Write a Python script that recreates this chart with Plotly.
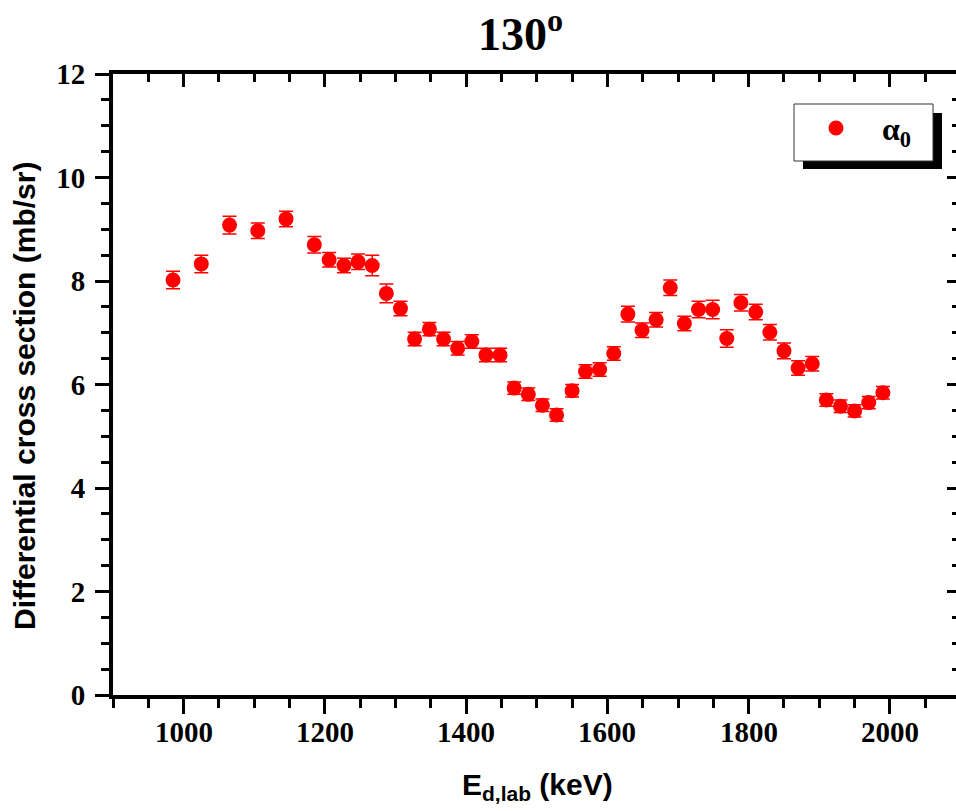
import plotly.graph_objects as go

# ---------------- data ----------------
energy_keV = [985, 1025, 1065, 1105, 1145, 1185, 1206, 1227, 1247, 1267, 1287, 1307,
              1327, 1348, 1368, 1388, 1408, 1428, 1448, 1468, 1488, 1508, 1528, 1550,
              1569, 1589, 1609, 1629, 1649, 1669, 1689, 1709, 1729, 1749, 1769, 1789,
              1810, 1830, 1850, 1870, 1890, 1910, 1930, 1950, 1970, 1990]
cross_section = [8.02, 8.33, 9.08, 8.97, 9.20, 8.70, 8.41, 8.30, 8.37, 8.30, 7.76, 7.47,
                 6.88, 7.07, 6.88, 6.70, 6.83, 6.57, 6.57, 5.93, 5.81, 5.60, 5.41, 5.88,
                 6.25, 6.29, 6.60, 7.36, 7.05, 7.25, 7.87, 7.18, 7.45, 7.45, 6.89, 7.58,
                 7.40, 7.01, 6.65, 6.32, 6.40, 5.70, 5.58, 5.49, 5.65, 5.84]
cross_error = [0.17, 0.17, 0.17, 0.15, 0.15, 0.16, 0.14, 0.14, 0.15, 0.20, 0.18, 0.14,
               0.13, 0.13, 0.13, 0.13, 0.13, 0.13, 0.13, 0.12, 0.12, 0.12, 0.12, 0.12,
               0.13, 0.13, 0.13, 0.15, 0.14, 0.14, 0.15, 0.14, 0.16, 0.18, 0.17, 0.16,
               0.15, 0.15, 0.15, 0.14, 0.14, 0.12, 0.12, 0.12, 0.12, 0.12]
x_ticks = [1000, 1200, 1400, 1600, 1800, 2000]
x_tick_labels = ["1000", "1200", "1400", "1600", "1800", "2000"]
y_ticks = [0, 2, 4, 6, 8, 10, 12]
series_name = "α<sub>0</sub>"
title_text = "130<sup>o</sup>"
x_title = "E<sub>d,lab</sub> (keV)"
y_title = "Differential cross section (mb/sr)"

# ---------------- layout geometry ----------------
W, H = 956, 811
L, R, T, B = 113, 0, 74, 116
PW, PH = W - L - R, H - T - B
X_MIN, X_MAX = 900, 900 + PW / 0.7063
Y_MIN, Y_MAX = 0, 12


def px(xp):
    return (xp - L) / PW


def py(yp):
    return (T + PH - yp) / PH


serif = "Liberation Serif, Times New Roman, serif"
sans = "Liberation Sans, Arial, sans-serif"
RED = "#ff0000"

fig = go.Figure()
fig.add_trace(go.Scatter(
    x=energy_keV, y=cross_section, mode="markers", name="alpha0",
    marker=dict(color=RED, size=15, line=dict(width=0)),
    error_y=dict(type="data", array=cross_error, visible=True,
                 color=RED, thickness=1.5, width=7),
    showlegend=False,
))
# invisible companion trace to carry the top / right axes
fig.add_trace(go.Scatter(
    x=energy_keV, y=cross_section, mode="markers", xaxis="x2", yaxis="y2",
    marker=dict(opacity=0), hoverinfo="skip", showlegend=False,
))

tickfont = dict(family=serif, size=29, color="black", weight="bold")

fig.update_layout(
    width=W, height=H,
    margin=dict(l=L, r=R, t=T, b=B, pad=0),
    paper_bgcolor="white", plot_bgcolor="white",
    showlegend=False,
    xaxis=dict(
        range=[X_MIN, X_MAX], tickvals=x_ticks, ticks="outside", ticklen=15,
        tickwidth=3, tickcolor="black", showline=True, linewidth=4, linecolor="black",
        showgrid=False, zeroline=False, showticklabels=False,
        minor=dict(dtick=50, tick0=900, ticks="outside", ticklen=9, tickwidth=3,
                   tickcolor="black", showgrid=False),
    ),
    yaxis=dict(
        range=[Y_MIN, Y_MAX], tickvals=y_ticks, ticks="outside", ticklen=14,
        tickwidth=3, tickcolor="black", showline=True, linewidth=4, linecolor="black",
        showgrid=False, zeroline=False, tickfont=tickfont, ticklabelstandoff=4,
        minor=dict(dtick=0.5, tick0=0, ticks="outside", ticklen=8, tickwidth=3,
                   tickcolor="black", showgrid=False),
    ),
    xaxis2=dict(
        overlaying="x", side="top", anchor="y", range=[X_MIN, X_MAX],
        tickvals=x_ticks, ticks="inside", ticklen=13, tickwidth=3, tickcolor="black",
        showline=True, linewidth=4, linecolor="black", showgrid=False,
        zeroline=False, showticklabels=False,
        minor=dict(dtick=50, tick0=900, ticks="inside", ticklen=8, tickwidth=3,
                   tickcolor="black", showgrid=False),
    ),
    yaxis2=dict(
        overlaying="y", side="right", anchor="x", range=[Y_MIN, Y_MAX],
        tickvals=y_ticks, ticks="inside", ticklen=9, tickwidth=3, tickcolor="black",
        showline=False, showgrid=False, zeroline=False, showticklabels=False,
        minor=dict(dtick=0.5, tick0=0, ticks="inside", ticklen=4, tickwidth=3,
                   tickcolor="black", showgrid=False),
    ),
)

annotations = [
    dict(text=title_text, x=px(520), y=py(31), xref="paper", yref="paper",
         xanchor="center", yanchor="middle", showarrow=False,
         font=dict(family=serif, size=46, color="black", weight="bold")),
    dict(text=x_title, x=px(537), y=py(786), xref="paper", yref="paper",
         xanchor="center", yanchor="middle", showarrow=False,
         font=dict(family=sans, size=30, color="black", weight="bold")),
    dict(text=y_title, x=px(24), y=py(396), xref="paper", yref="paper",
         xanchor="center", yanchor="middle", textangle=-90, showarrow=False,
         font=dict(family=sans, size=30, color="black", weight="bold")),
    dict(text=series_name, x=px(880), y=py(132), xref="paper", yref="paper",
         xanchor="left", yanchor="middle", showarrow=False,
         font=dict(family=serif, size=32, color="black", weight="bold")),
]
# x tick labels placed at their tick values
for tv, tl in zip(x_ticks, x_tick_labels):
    annotations.append(dict(
        text=tl, x=tv, xref="x", y=py(732), yref="paper",
        xanchor="center", yanchor="middle", showarrow=False,
        font=tickfont))
fig.update_layout(annotations=annotations)

shapes = [
    # legend shadow
    dict(type="rect", xref="paper", yref="paper", x0=px(803), x1=px(942),
         y0=py(169), y1=py(113), fillcolor="black", line=dict(width=0), layer="above"),
    # legend box
    dict(type="rect", xref="paper", yref="paper", x0=px(794), x1=px(933),
         y0=py(161), y1=py(104), fillcolor="white",
         line=dict(color="#333333", width=1), layer="above"),
    # legend symbol
    dict(type="circle", xref="paper", yref="paper", x0=px(828.5), x1=px(843.5),
         y0=py(135.5), y1=py(120.5), fillcolor=RED, line=dict(width=0), layer="above"),
]
fig.update_layout(shapes=shapes)

fig.write_html("out.html")
